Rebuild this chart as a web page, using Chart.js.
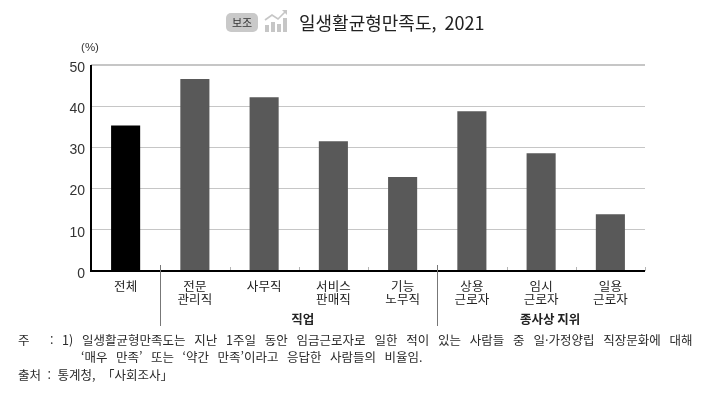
<!DOCTYPE html>
<html lang="ko"><head><meta charset="utf-8">
<style>
html,body{margin:0;padding:0;background:#fff;width:712px;height:395px;overflow:hidden;font-family:"Noto Sans CJK KR",sans-serif;color:#222}
#wrap{position:relative;width:712px;height:395px;filter:blur(0.35px)}
canvas{position:absolute;left:0;top:0}
.t{position:absolute;white-space:nowrap;line-height:1}
#badge{left:226px;top:13px;width:32px;height:19px;background:#c9c9c9;border-radius:5px;font-size:11px;line-height:18px;text-align:center;color:#333}
#icon{position:absolute;left:264px;top:9px}
#title{left:299px;top:13px;font-size:18px;color:#222;word-spacing:3px}
.n{font-size:12.5px;color:#2a2a2a}
</style></head><body><div id="wrap">
<canvas id="c" width="712" height="395"></canvas>
<div class="t" id="badge">보조</div>
<svg id="icon" width="25" height="24" viewBox="0 0 25 24"><g fill="#c6c6c6"><rect x="1" y="16" width="4" height="7"/><rect x="7" y="13" width="4" height="10"/><rect x="13" y="15" width="4" height="8"/><rect x="19" y="9" width="4" height="14"/></g><path d="M1 11 L8 6 L14 10 L21 3" fill="none" stroke="#c6c6c6" stroke-width="1.6"/><path d="M18 1 L23 1 L23 6 Z" fill="#c6c6c6"/></svg>
<div class="t" id="title">일생활균형만족도, 2021</div>
<div class="t n" style="left:18px;top:334px">주</div>
<div class="t n" style="left:50px;top:334px">:</div>
<div class="t n" style="left:62px;top:334px;word-spacing:5.3px">1) 일생활균형만족도는 지난 1주일 동안 임금근로자로 일한 적이 있는 사람들 중 일·가정양립 직장문화에 대해</div>
<div class="t n" style="left:81px;top:351px;word-spacing:5px">‘매우 만족’ 또는 ‘약간 만족’이라고 응답한 사람들의 비율임.</div>
<div class="t n" style="left:18px;top:369px;word-spacing:3px">출처 : 통계청, 「사회조사」</div>
</div>
<script src="https://cdn.jsdelivr.net/npm/chart.js@4"></script>
<script>
const categories=[["전체"],["전문","관리직"],["사무직"],["서비스","판매직"],["기능","노무직"],["상용","근로자"],["임시","근로자"],["일용","근로자"]];
const values=[35.3,46.6,42.2,31.5,22.8,38.8,28.6,13.8];
const barColors=["#000000","#595959","#595959","#595959","#595959","#595959","#595959","#595959"];
const groups=[{label:"직업",from:1,to:4,shift:4},{label:"종사상 지위",from:5,to:7,shift:9}];
const separators=[0,4];
const unitLabel="(%)";
const FONT='"Noto Sans CJK KR",sans-serif';
const deco={id:"deco",afterDatasetsDraw(ch){
 const {ctx,scales:{x,y},chartArea:a}=ch;
 const step=x.getPixelForValue(1)-x.getPixelForValue(0);
 ctx.save();
 ctx.strokeStyle="#b5b5b5";ctx.lineWidth=1;
 for(let i=0;i<categories.length;i++){
  const px=Math.round(x.getPixelForValue(i)+step/2)+.5;
  ctx.beginPath();ctx.moveTo(px,a.bottom-4);ctx.lineTo(px,a.bottom);ctx.stroke();
 }
 ctx.strokeStyle="#c6c6c6";ctx.lineWidth=2;
 ctx.beginPath();ctx.moveTo(a.left,a.top);ctx.lineTo(a.right,a.top);ctx.stroke();
 ctx.strokeStyle="#000";ctx.lineWidth=2;
 ctx.beginPath();ctx.moveTo(a.left,a.bottom);ctx.lineTo(a.right,a.bottom);ctx.stroke();
 ctx.beginPath();ctx.moveTo(a.left,a.top);ctx.lineTo(a.left,a.bottom+1);ctx.stroke();
 ctx.strokeStyle="#777";ctx.lineWidth=1;
 separators.forEach(i=>{
  const px=Math.round(x.getPixelForValue(i)+step/2)+.5;
  ctx.beginPath();ctx.moveTo(px,a.bottom-6);ctx.lineTo(px,326);ctx.stroke();
 });
 ctx.fillStyle="#222";ctx.textAlign="center";ctx.textBaseline="middle";
 ctx.font='bold 12.5px '+FONT;
 groups.forEach(g=>{
  const cx=(x.getPixelForValue(g.from)+x.getPixelForValue(g.to))/2+g.shift;
  ctx.fillText(g.label,cx,319);
 });
 ctx.font='11.5px "Liberation Sans"';ctx.fillStyle="#333";
 ctx.fillText(unitLabel,90,48);
 ctx.restore();
}};
const canvas=document.getElementById("c");
canvas.getContext("2d").letterSpacing="2.5px";
new Chart(canvas,{
 type:"bar",
 data:{labels:categories,datasets:[{data:values,backgroundColor:barColors,borderWidth:0,categoryPercentage:1,barPercentage:0.42}]},
 plugins:[deco],
 options:{
  responsive:false,animation:false,
  layout:{padding:{left:0,right:67,top:65,bottom:0}},
  plugins:{legend:{display:false},tooltip:{enabled:false}},
  scales:{
   x:{grid:{display:false},border:{display:false},
      ticks:{color:"#222",font:{family:FONT,size:12.5,lineHeight:1.08},padding:0,maxRotation:0,autoSkip:false},
      afterFit(s){s.height=124;}},
   y:{min:0,max:50,grid:{color:"#c6c6c6",lineWidth:1,drawTicks:false},border:{display:false},
      ticks:{stepSize:10,color:"#333",font:{family:"Liberation Sans",size:14},padding:6,labelOffset:3},
      afterFit(s){s.width=91;}}
  }
 }
});
</script></body></html>
